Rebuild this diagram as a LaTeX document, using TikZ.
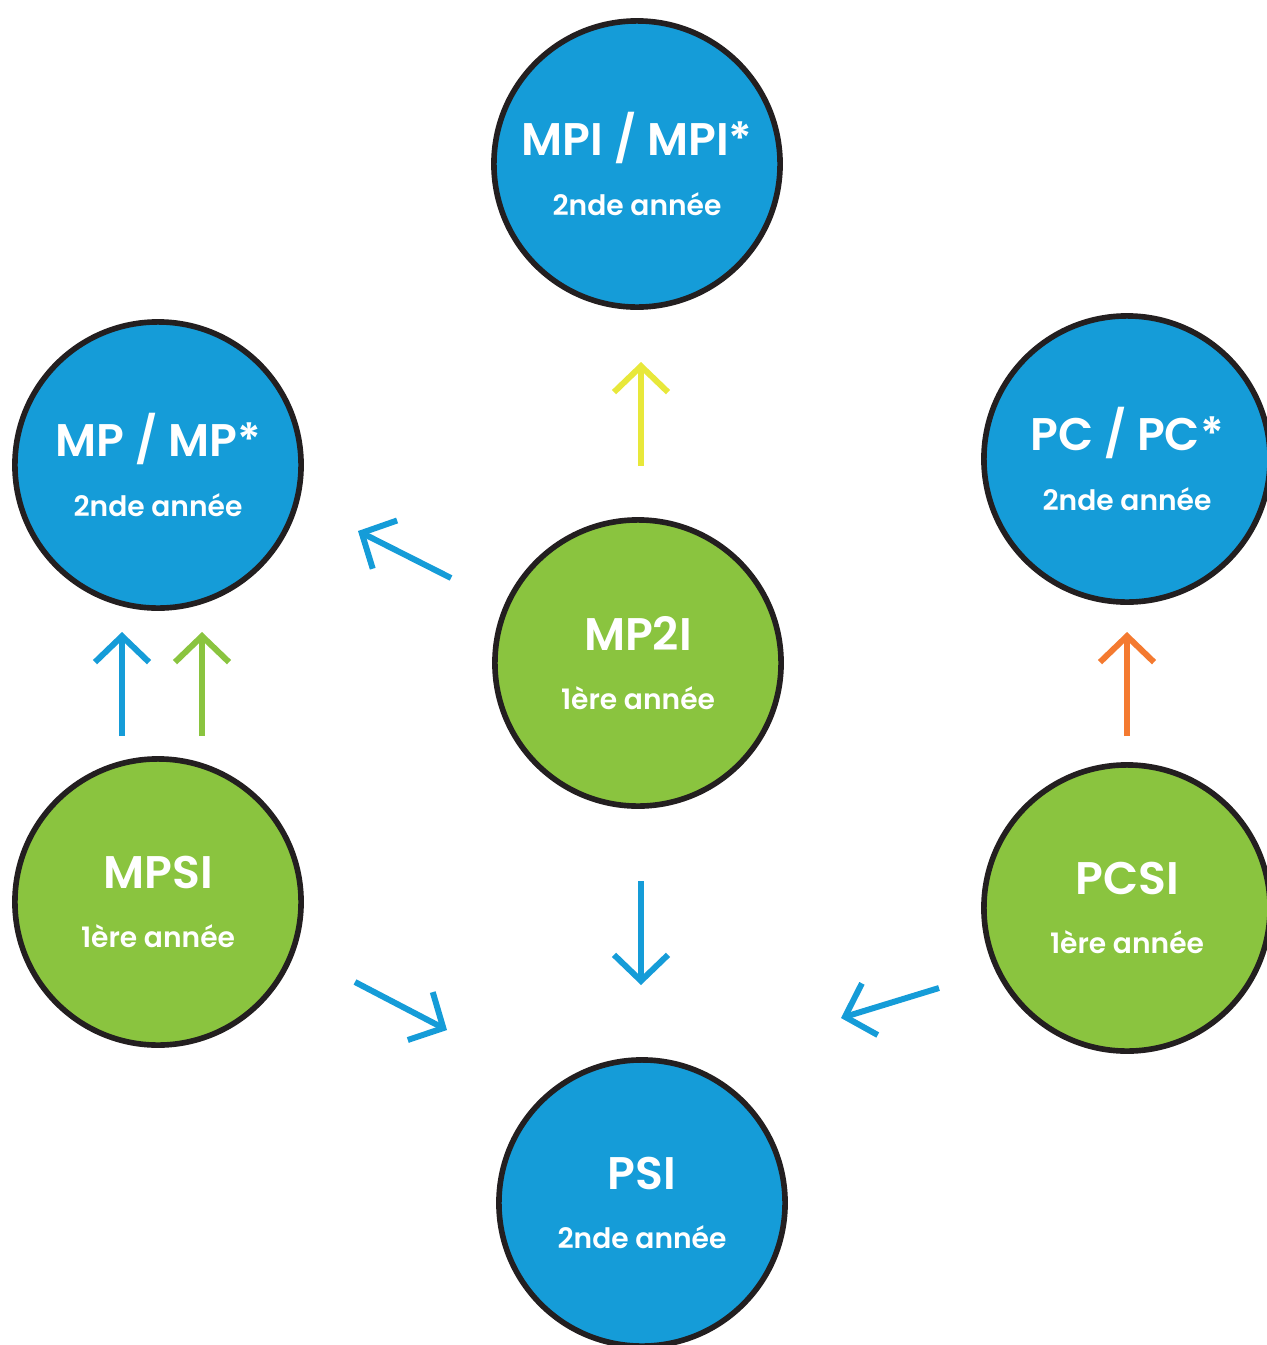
\documentclass[tikz,border=0pt]{standalone}
\usepackage{fontspec}
\setmainfont{Poppins}[BoldFont={Poppins SemiBold}]
\usetikzlibrary{arrows.meta}

\definecolor{bleu}{HTML}{159CD8}
\definecolor{vert}{HTML}{8AC43F}
\definecolor{jaune}{HTML}{E8E83A}
\definecolor{orange}{HTML}{F47A30}
\definecolor{bord}{HTML}{231F20}

\newcommand{\filiere}[2]{{\fontsize{13}{13}\selectfont\bfseries #1}\\[5pt]{\fontsize{8}{8}\selectfont\bfseries #2}}

\tikzset{
  classe/.style={circle, draw=bord, line width=1.6pt, minimum size=2.86cm, inner sep=0pt, text=white, align=center},
  deuxieme/.style={classe, fill=bleu},
  premiere/.style={classe, fill=vert},
  fleche/.style={line width=1.7pt, -{Straight Barb[length=2.6mm,width=5.4mm]}}
}

\begin{document}
\begin{tikzpicture}[x=0.01cm,y=-0.01cm]
            \useasboundingbox (0,0) rectangle (1267,1345);

            \node[deuxieme] (mpi) at (637,164) {\filiere{MPI / MPI*}{2nde année}};
            \node[deuxieme] (mp) at (158,465) {\filiere{MP / MP*}{2nde année}};
            \node[deuxieme] (pc) at (1127,459) {\filiere{PC / PC*}{2nde année}};
            \node[premiere] (mpii) at (638,663) {\filiere{MP2I}{1ère année}};
            \node[premiere] (mpsi) at (158,902) {\filiere{MPSI}{1ère année}};
            \node[premiere] (pcsi) at (1127,908) {\filiere{PCSI}{1ère année}};
            \node[deuxieme] (psi) at (642,1203) {\filiere{PSI}{2nde année}};

            % bouts des fleches
            \coordinate (a1) at (641,466);  \coordinate (b1) at (641,362);
            \coordinate (a2) at (451,578);  \coordinate (b2) at (358,531);
            \coordinate (a3) at (122,736);  \coordinate (b3) at (122,632);
            \coordinate (a4) at (202,736);  \coordinate (b4) at (202,632);
            \coordinate (a5) at (1127,736); \coordinate (b5) at (1127,632);
            \coordinate (a6) at (641,881);  \coordinate (b6) at (641,985);
            \coordinate (a7) at (355,982);  \coordinate (b7) at (447,1030);
            \coordinate (a8) at (939,988);  \coordinate (b8) at (841,1018);

            \draw[fleche, jaune] (a1) -- (b1);
            \draw[fleche, bleu] (a2) -- (b2);
            \draw[fleche, bleu] (a3) -- (b3);
            \draw[fleche, vert] (a4) -- (b4);
            \draw[fleche, orange] (a5) -- (b5);
            \draw[fleche, bleu] (a6) -- (b6);
            \draw[fleche, bleu] (a7) -- (b7);
            \draw[fleche, bleu] (a8) -- (b8);

        \end{tikzpicture}
\end{document}
